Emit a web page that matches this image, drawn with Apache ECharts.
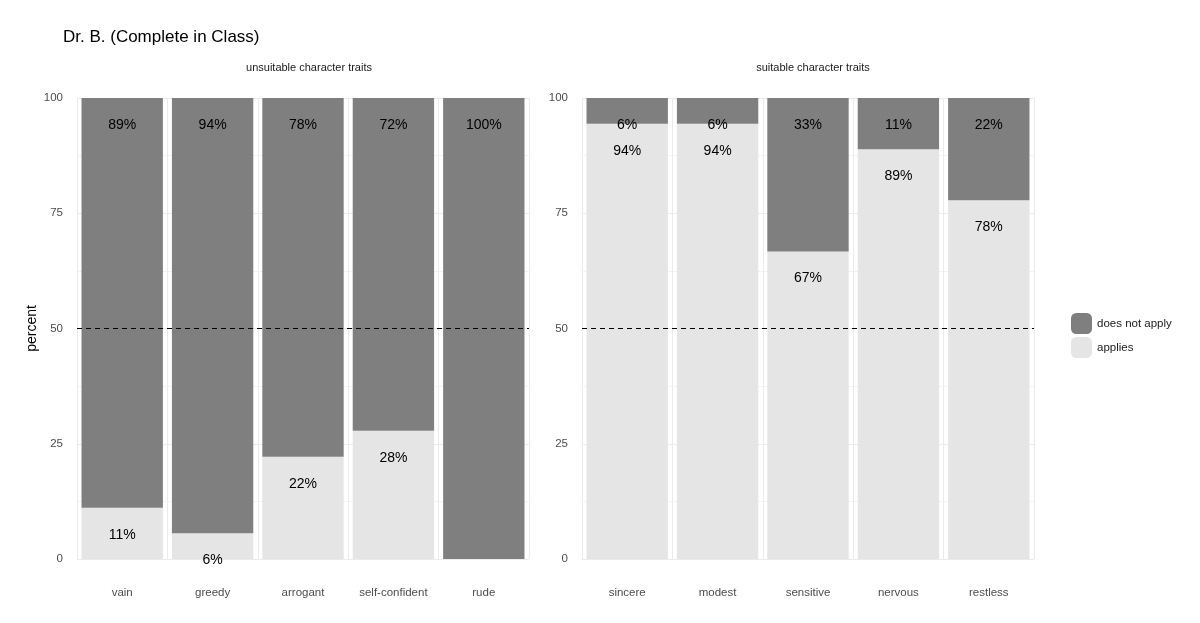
<!DOCTYPE html>
<html lang="en">
<head>
<meta charset="UTF-8">
<title>Dr. B.</title>
<style>html,body{margin:0;padding:0;background:#fff}</style>
</head>
<body>
<div class="main" style="width:1200px;height:623px"></div>
<script src="https://cdn.jsdelivr.net/npm/echarts@6/dist/echarts.min.js"></script>
<script>
    // data, n = 18 ratings per trait
    var leftTraits = ['vain', 'greedy', 'arrogant', 'self-confident', 'rude'];
    var leftApplies = [11.1, 5.6, 22.2, 27.8, 0];
    var leftNot = [88.9, 94.4, 77.8, 72.2, 100];
    var rightTraits = ['sincere', 'modest', 'sensitive', 'nervous', 'restless'];
    var rightApplies = [94.4, 94.4, 66.7, 88.9, 77.8];
    var rightNot = [5.6, 5.6, 33.3, 11.1, 22.2];
    var yTicks = [0, 25, 50, 75, 100];

    var DARK = '#7f7f7f', LIGHT = '#e5e5e5';
    var font = 'Liberation Sans, Arial, sans-serif';

    var main = document.querySelector('.main');
    var chart = echarts.init(main);

    function xAxis(idx, data) {
        return {
            type: 'category', gridIndex: idx, data: data,
            axisLine: {show: false}, axisTick: {show: false},
            axisLabel: {color: '#4d4d4d', fontSize: 11.5, fontFamily: font, margin: 28},
            splitLine: {show: true, interval: 0, lineStyle: {color: '#ebebeb'}}
        };
    }
    function yAxis(idx) {
        return {
            type: 'value', gridIndex: idx, min: 0, max: 100, interval: 25,
            name: idx === 0 ? 'percent' : '', nameLocation: 'middle', nameGap: 38,
            nameTextStyle: {color: '#000', fontSize: 14, fontFamily: font},
            axisLabel: {color: '#4d4d4d', fontSize: 11.5, fontFamily: font, margin: 14,
                formatter: function (v) { return yTicks.indexOf(v) >= 0 ? v : ''; }},
            splitLine: {lineStyle: {color: '#ebebeb', width: 1.2}},
            minorTick: {show: false, splitNumber: 2},
            minorSplitLine: {show: true, lineStyle: {color: '#f3f3f3'}}
        };
    }
    var lbl = {
        show: true, position: 'insideTop', distance: 20, color: '#000',
        fontSize: 14, fontFamily: font,
        formatter: function (p) { return p.value > 0 ? Math.round(p.value) + '%' : ''; }
    };
    function series(idx, applies, not) {
        var s = [
            {name: 'applies', type: 'bar', stack: 's' + idx, xAxisIndex: idx, yAxisIndex: idx,
                data: applies, barCategoryGap: '10%', itemStyle: {color: LIGHT}, label: lbl},
            {name: 'does not apply', type: 'bar', stack: 's' + idx, xAxisIndex: idx, yAxisIndex: idx,
                data: not, barCategoryGap: '10%', itemStyle: {color: DARK}, label: lbl,
                markLine: {silent: true, symbol: 'none', label: {show: false},
                    lineStyle: {color: '#000', type: [5, 4], width: 1.2},
                    data: [{yAxis: 50}]}}
        ];
        return s;
    }

    var option = {
        backgroundColor: '#fff',
        animation: false,
        title: [
            {text: 'Dr. B. (Complete in Class)', left: 58, top: 24,
                textStyle: {fontSize: 17, fontWeight: 'normal', color: '#000', fontFamily: font}},
            {text: 'unsuitable character traits', left: 304, top: 57, textAlign: 'center',
                textStyle: {fontSize: 11, fontWeight: 'normal', color: '#1a1a1a', fontFamily: font}},
            {text: 'suitable character traits', left: 808, top: 57, textAlign: 'center',
                textStyle: {fontSize: 11, fontWeight: 'normal', color: '#1a1a1a', fontFamily: font}}
        ],
        legend: {
            orient: 'vertical', left: 1066, top: 308, itemWidth: 21, itemHeight: 21, itemGap: 3,
            data: ['does not apply', 'applies'],
            textStyle: {fontSize: 11.5, color: '#1a1a1a', fontFamily: font}
        },
        grid: [
            {left: 77, width: 452, top: 98, bottom: 64},
            {left: 582, width: 452, top: 98, bottom: 64}
        ],
        xAxis: [xAxis(0, leftTraits), xAxis(1, rightTraits)],
        yAxis: [yAxis(0), yAxis(1)],
        series: series(0, leftApplies, leftNot).concat(series(1, rightApplies, rightNot))
    };
    chart.setOption(option);
</script>
</body>
</html>
